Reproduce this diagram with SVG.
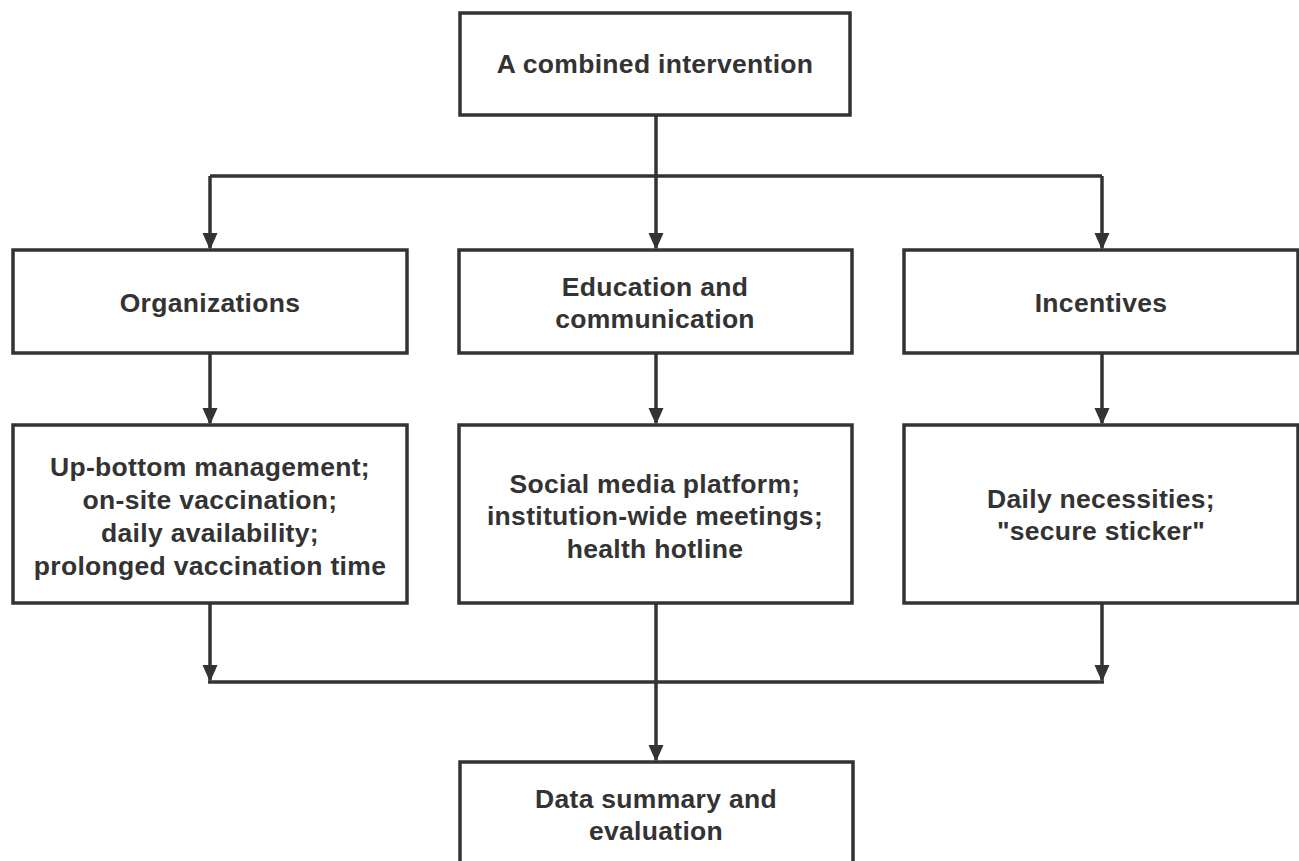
<svg xmlns="http://www.w3.org/2000/svg" width="1299" height="861" viewBox="0 0 1299 861">
  <style>
    .box { fill: #ffffff; stroke: #333333; stroke-width: 3.5; }
    .lbl { font-family: "Liberation Sans", Arial, sans-serif; font-weight: bold; font-size: 26.5px; fill: #333333; text-anchor: middle; letter-spacing: 0.3px; }
    .conn { fill: none; stroke: #333333; stroke-width: 3.5; }
  </style>
  <defs>
    <marker id="arrow" markerUnits="userSpaceOnUse" markerWidth="18" markerHeight="16" refX="15" refY="7.5" orient="auto">
      <path d="M0,0 L17,7.5 L0,15 Z" fill="#333333"/>
    </marker>
  </defs>
  <rect width="1299" height="861" fill="#ffffff"/>

  <g id="connectors">
    <path class="conn" d="M656,115 V176"/>
    <path class="conn" d="M210,176 H1102"/>
    <path class="conn" d="M210,176 V248" marker-end="url(#arrow)"/>
    <path class="conn" d="M656,176 V248" marker-end="url(#arrow)"/>
    <path class="conn" d="M1102,176 V248" marker-end="url(#arrow)"/>
    <path class="conn" d="M210,353 V423" marker-end="url(#arrow)"/>
    <path class="conn" d="M656,353 V423" marker-end="url(#arrow)"/>
    <path class="conn" d="M1102,353 V423" marker-end="url(#arrow)"/>
    <path class="conn" d="M210,603 V680" marker-end="url(#arrow)"/>
    <path class="conn" d="M1102,603 V680" marker-end="url(#arrow)"/>
    <path class="conn" d="M208,682 H1104"/>
    <path class="conn" d="M656,603 V760" marker-end="url(#arrow)"/>
  </g>

  <g id="node-top">
    <rect class="box" x="460" y="13" width="390" height="102"/>
    <text class="lbl" x="655" y="73">A combined intervention</text>
  </g>

  <g id="node-organizations">
    <rect class="box" x="13" y="250" width="394" height="103"/>
    <text class="lbl" x="210" y="312">Organizations</text>
  </g>

  <g id="node-education">
    <rect class="box" x="459" y="250" width="393" height="103"/>
    <text class="lbl" x="655" y="296">Education and</text>
    <text class="lbl" x="655" y="328">communication</text>
  </g>

  <g id="node-incentives">
    <rect class="box" x="904" y="250" width="394" height="103"/>
    <text class="lbl" x="1101" y="312">Incentives</text>
  </g>

  <g id="node-org-detail">
    <rect class="box" x="13" y="425" width="394" height="178"/>
    <text class="lbl" x="210" y="476">Up-bottom management;</text>
    <text class="lbl" x="210" y="509">on-site vaccination;</text>
    <text class="lbl" x="210" y="542">daily availability;</text>
    <text class="lbl" x="210" y="575">prolonged vaccination time</text>
  </g>

  <g id="node-edu-detail">
    <rect class="box" x="459" y="425" width="393" height="178"/>
    <text class="lbl" x="655" y="493">Social media platform;</text>
    <text class="lbl" x="655" y="525">institution-wide meetings;</text>
    <text class="lbl" x="655" y="558">health hotline</text>
  </g>

  <g id="node-inc-detail">
    <rect class="box" x="904" y="425" width="394" height="178"/>
    <text class="lbl" x="1101" y="508">Daily necessities;</text>
    <text class="lbl" x="1101" y="540">"secure sticker"</text>
  </g>

  <g id="node-summary">
    <rect class="box" x="460" y="762" width="393" height="104"/>
    <text class="lbl" x="656" y="808">Data summary and</text>
    <text class="lbl" x="656" y="840">evaluation</text>
  </g>
</svg>
